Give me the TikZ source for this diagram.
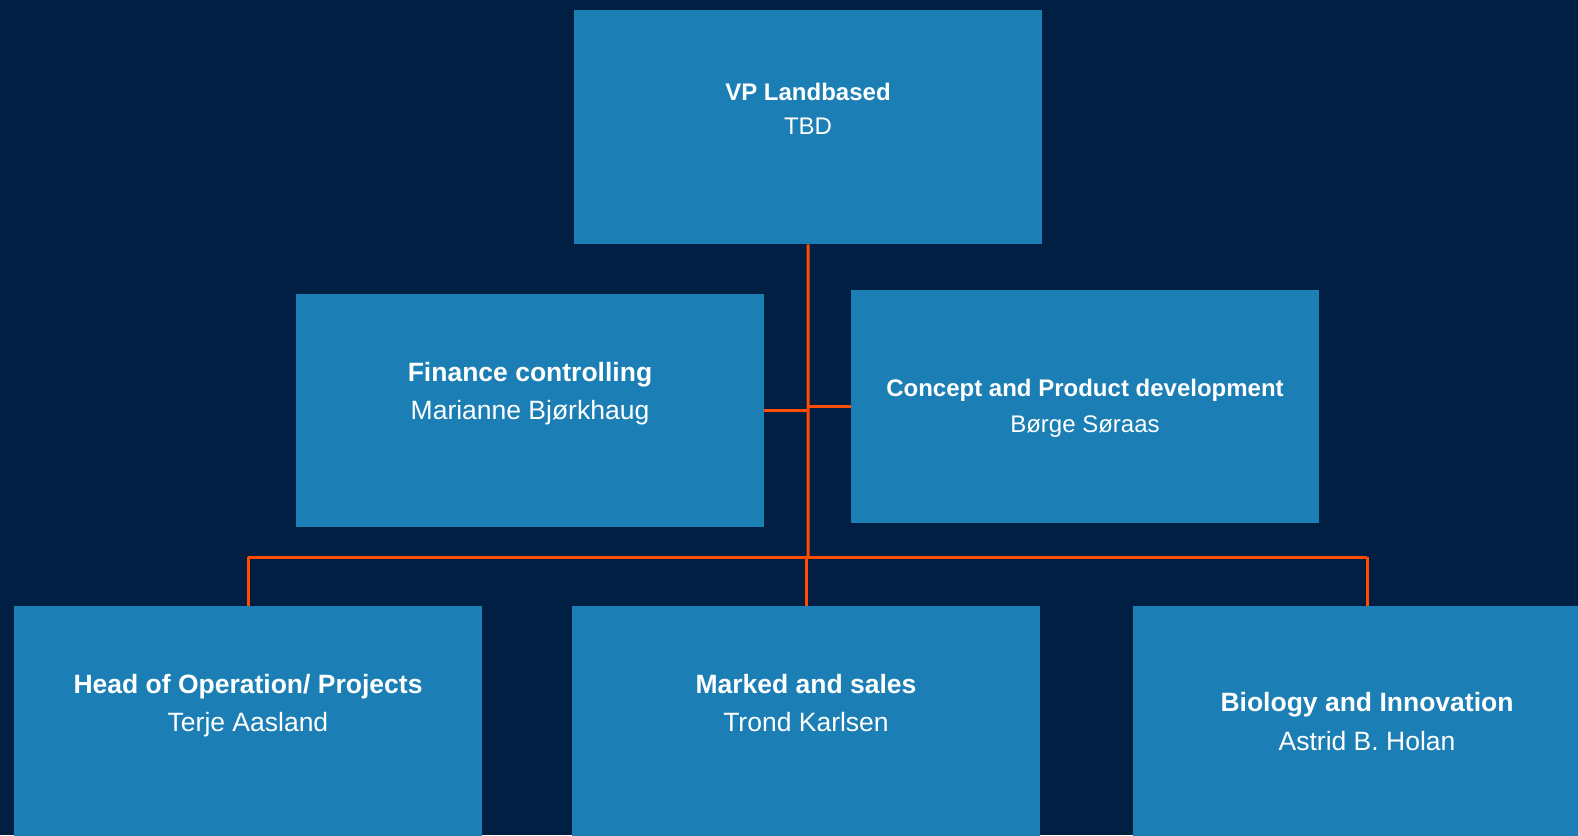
\documentclass[tikz,border=0pt]{standalone}
\usepackage{fontspec}
\setmainfont{Liberation Sans}
\definecolor{bgnavy}{RGB}{0,31,66}
\definecolor{boxblue}{RGB}{27,126,180}
\definecolor{lineorange}{RGB}{255,76,0}
\tikzset{
  orgbox/.style={fill=boxblue, draw=none, inner sep=0pt, minimum width=468pt, minimum height=233pt, anchor=north west},
  conn/.style={draw=lineorange, line width=3pt},
  titlebig/.style={text=white, anchor=base, inner sep=0pt, font=\fontsize{26.5}{30}\selectfont\bfseries},
  namebig/.style={text=white, anchor=base, inner sep=0pt, font=\fontsize{26.5}{30}\selectfont},
  titlesmall/.style={text=white, anchor=base, inner sep=0pt, font=\fontsize{24}{28}\selectfont\bfseries},
  namesmall/.style={text=white, anchor=base, inner sep=0pt, font=\fontsize{24}{28}\selectfont},
}
\begin{document}
\begin{tikzpicture}[x=1pt,y=-1pt]
\useasboundingbox (0,0) rectangle (1578,835);
\fill[bgnavy] (0,0) rectangle (1578,835);
\clip (0,0) rectangle (1578,835);

% boxes
\node[orgbox, minimum height=234pt] (vp) at (574,10) {};
\node[orgbox] (fin) at (296,294) {};
\node[orgbox] (con) at (851,290) {};
\node[orgbox] (ops) at (14,606) {};
\node[orgbox] (mkt) at (572,606) {};
\node[orgbox] (bio) at (1133,606) {};

% texts
\node[titlesmall] (vpt) at (808,100) {VP Landbased};
\node[namesmall] (vpn) at (808,134) {TBD};
\node[titlebig] (fint) at (530,381) {Finance controlling};
\node[namebig] (finn) at (530,419.5) {Marianne Bjørkhaug};
\node[titlesmall] (cont) at (1085,396.7) {Concept and Product development};
\node[namesmall] (conn) at (1085,432) {Børge Søraas};
\node[titlebig] (opst) at (248,693.3) {Head of Operation/ Projects};
\node[namebig] (opsn) at (248,731) {Terje Aasland};
\node[titlebig] (mktt) at (806,693.3) {Marked and sales};
\node[namebig] (mktn) at (806,731) {Trond Karlsen};
\node[titlebig] (biot) at (1367,711.7) {Biology and Innovation};
\node[namebig] (bion) at (1367,750.7) {Astrid B. Holan};

% connectors
\coordinate (bus) at (808,557);
\draw[conn] (vp.south) -- (bus);
\draw[conn] (fin.east) -- (fin.east -| vp.south);
\draw[conn] (con.west) -- (con.west -| vp.south);
\draw[conn] (ops.north |- bus) -- (bio.north |- bus);
\draw[conn] (ops.north |- bus) -- (ops.north);
\draw[conn] (mkt.north |- bus) -- (mkt.north);
\draw[conn] (bio.north |- bus) -- (bio.north);
\end{tikzpicture}
\end{document}
